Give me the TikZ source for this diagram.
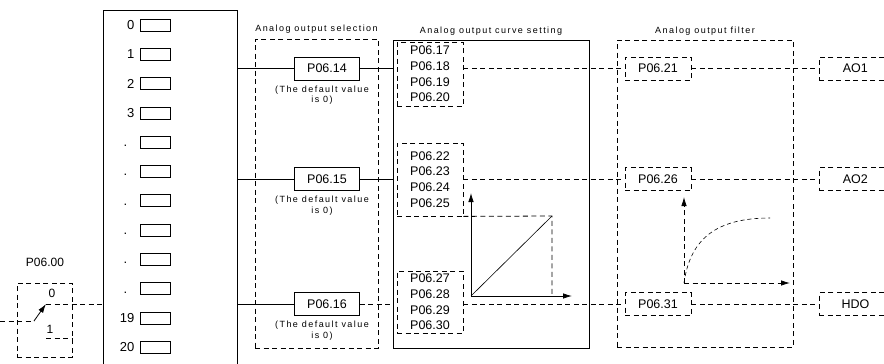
\documentclass[tikz,border=0pt]{standalone}
\usepackage{fontspec}
\setmainfont{Liberation Sans}
\newfontfamily\spacedfont[LetterSpace=16]{Liberation Sans}
\usetikzlibrary{positioning, arrows.meta, calc}

\begin{document}
\begin{tikzpicture}[
    x=1pt, y=-1pt,
    line/.style={line width=0.8pt},
    dline/.style={line, dash pattern=on 5pt off 3.5pt},
    arrow/.style={-{Latex[length=9pt,width=5.5pt]}},
    box/.style={draw, line width=0.8pt, rectangle, minimum width=65pt,
                minimum height=23pt, inner sep=0pt,
                font=\fontsize{12.5}{14}\selectfont},
    dbox/.style={box, dash pattern=on 5pt off 3.5pt},
    frame/.style={draw, line width=0.8pt, inner sep=0pt},
    slot/.style={draw, line width=0.7pt, minimum width=30pt,
                 minimum height=12pt, inner sep=0pt},
    num/.style={font=\fontsize{13}{15}\selectfont, inner sep=0pt},
    par/.style={dbox, minimum width=66pt, align=center,
                font=\fontsize{12.5}{15.7}\selectfont},
    note/.style={font=\spacedfont\fontsize{9}{10.5}\selectfont,
                 align=center, inner sep=0pt},
    title/.style={font=\spacedfont\fontsize{9}{10}\selectfont, inner sep=0pt}
]
\useasboundingbox (0,0) rectangle (884,364);
% Source list
\node[frame, minimum width=134pt, minimum height=360pt, anchor=north west]
      (src) at (103,10) {};
\foreach \t [count=\i from 0] in {0,1,2,3,{.\phantom{0}},{.\phantom{0}},
    {.\phantom{0}},{.\phantom{0}},{.\phantom{0}},{.\phantom{0}},19,20} {
  \node[slot] (slot\i) at (155, 25+29.3*\i) {};
  \node[num, left=5pt of slot\i] {\t};
}
% Switch P06.00
\node[frame, dline, minimum width=55pt, minimum height=74pt] (sw) at (44.5,320) {};
\node[num, font=\fontsize{12}{14}\selectfont] (swname) at (45,262) {P06.00};
\node[num, font=\fontsize{12}{14}\selectfont] (sw0) at (52,293) {0};
\node[num, font=\fontsize{12}{14}\selectfont] (sw1) at (50,329) {1};
\coordinate (in) at (0,321);
\coordinate (piv) at (34,321);
\coordinate (c0) at (46,304);
\coordinate (c1) at (46,338);
\draw[dline] (in) -- (piv);
\draw[line, arrow] (piv) -- (c0);
\draw[dline] (c0) -- (src.west |- c0);
\draw[dline] (c1) -- (sw.east |- c1);
% Analog output selection
\node[frame, dline, minimum width=123pt, minimum height=309pt] (selfr) at (316.5,193.5) {};
\node[title, above=5pt of selfr] (selt) {Analog output selection};
\node[box] (sel1) at (327,68.5) {P06.14};
\node[box] (sel2) at (327,179) {P06.15};
\node[box] (sel3) at (327,304) {P06.16};
\foreach \s in {sel1,sel2,sel3}
  \node[note, below=5pt of \s, xshift=-5pt] {(The default value\\is 0)};
% Analog output curve setting
\node[frame, minimum width=196pt, minimum height=308pt] (curvefr) at (491,194) {};
\node[title, above=4pt of curvefr] (curvet) {Analog output curve setting};
\node[par, minimum height=64pt] (par1) at (430,74) {P06.17\\P06.18\\P06.19\\P06.20};
\node[par, minimum height=73pt] (par2) at (430,179.5) {P06.22\\P06.23\\P06.24\\P06.25};
\node[par, minimum height=62pt] (par3) at (430,302) {P06.27\\P06.28\\P06.29\\P06.30};
\coordinate (co) at (471,296);
\coordinate (cy) at (471,193);
\coordinate (cx) at (572,296);
\coordinate (cd) at (552,216);
\draw[line, arrow] (co) -- (cy);
\draw[line, arrow] (co) -- (cx);
\draw[line, line width=0.6pt] (co) -- (cd);
\draw[dline] (par2.south east) -- (cd) -- (cd |- co);
% Analog output filter
\node[frame, dline, minimum width=176pt, minimum height=307pt] (filtfr) at (705,193.5) {};
\node[title, above=4pt of filtfr] (filtt) {Analog output filter};
\node[dbox, minimum width=66pt] (flt1) at (658,68.5) {P06.21};
\node[dbox, minimum width=66pt] (flt2) at (658,179) {P06.26};
\node[dbox, minimum width=66pt] (flt3) at (658,304) {P06.31};
\coordinate (fo) at (684,283);
\coordinate (fy) at (684,197);
\coordinate (fx) at (790,283);
\coordinate (fe) at (770,218);
\draw[dline, arrow] (fo) -- (fy);
\draw[dline, arrow] (fo) -- (fx);
\draw[line, line width=0.6pt, dash pattern=on 4pt off 3pt]
      (fo) .. controls (690,240) and (715,218) .. (fe);
% Outputs
\node[dbox, minimum width=72pt, anchor=west] (ao1) at (819,68.5) {AO1};
\node[dbox, minimum width=72pt, anchor=west] (ao2) at (819,179) {AO2};
\node[dbox, minimum width=72pt, anchor=west] (hdo) at (819,304) {HDO};
% Connections
\draw[line] (src.east |- sel1) -- (sel1);
\draw[line] (sel1) -- (curvefr.west |- sel1);
\draw[line] (src.east |- sel2) -- (sel2);
\draw[line] (sel2) -- (curvefr.west |- sel2);
\draw[line] (src.east |- sel3) -- (sel3);
\draw[dline] (sel3) -- (curvefr.west |- sel3);
\draw[dline] (par1.east |- sel1) -- (flt1);
\draw[dline] (par2.east |- sel2) -- (flt2);
\draw[dline] (par3.east |- sel3) -- (flt3);
\draw[dline] (flt1) -- (ao1);
\draw[dline] (flt2) -- (ao2);
\draw[dline] (flt3) -- (hdo);
\end{tikzpicture}
\end{document}
